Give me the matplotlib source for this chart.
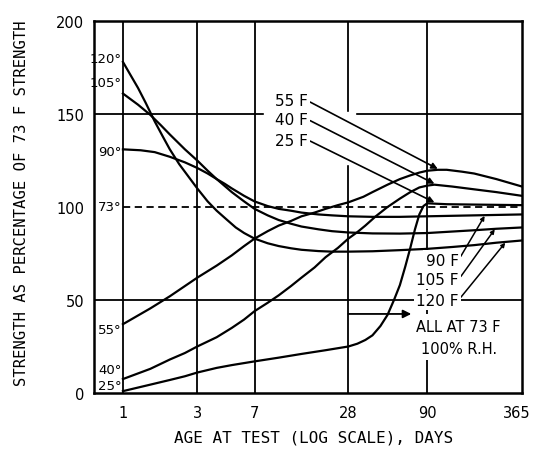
import matplotlib.pyplot as plt
from matplotlib.ticker import NullLocator
from matplotlib.patches import Rectangle
from matplotlib.transforms import ScaledTranslation

# strength as percentage of 73 F strength
days_120 = [1, 1.1, 1.25, 1.4, 1.6, 1.8, 2, 2.3, 2.6, 3, 3.5, 4, 4.6, 5.3, 6, 7,
            8.5, 10, 12, 14, 18, 22, 28, 40, 60, 90, 130, 180, 250, 365]
str_120 = [178, 172, 164, 156, 146, 138, 131, 123, 117, 110, 103, 98, 93.5, 89, 86, 83,
           80.5, 79, 77.8, 77, 76.3, 76, 76, 76.2, 76.8, 77.5, 78.5, 79.5, 80.8, 82]

days_105 = [1, 1.25, 1.5, 1.75, 2, 2.5, 3, 3.5, 4, 5, 6, 7, 8.5, 10, 12, 14, 18, 22,
            28, 40, 60, 90, 130, 180, 250, 365]
str_105 = [161, 155, 149.5, 144, 139, 131, 125, 119.5, 115, 108, 103, 99, 95.5, 93, 91,
           89.5, 88, 87, 86.3, 85.8, 85.7, 86, 86.8, 87.5, 88.3, 89]

days_90 = [1, 1.3, 1.6, 2, 2.5, 3, 3.5, 4, 4.5, 5, 6, 7, 8.5, 10, 12, 14, 18, 22, 28,
           40, 60, 90, 180, 365]
str_90 = [131, 130.5, 129.5, 127, 124, 121, 118, 115, 112.5, 110, 106, 103, 100.5, 99,
          98, 97, 96, 95.5, 95, 94.7, 94.7, 95, 95.5, 96]

days_73 = [1, 365]
str_73 = [100, 100]

days_55 = [1, 1.5, 2, 2.5, 3, 4, 5, 6, 7, 8.5, 10, 12, 14, 17, 20, 24, 28, 35, 40, 50,
           60, 70, 80, 90, 105, 120, 150, 180, 250, 365]
str_55 = [37, 45.5, 52, 57.5, 62, 68.5, 74, 79, 83, 87, 90, 92.5, 95, 97, 99, 101, 102.5,
          105.5, 108, 112, 115, 117, 118.5, 119.5, 120, 120, 119, 118, 115, 111]

days_40 = [1, 1.5, 2, 2.5, 3, 4, 5, 6, 7, 8.5, 10, 12, 14, 17, 20, 24, 28, 32, 36, 42,
           50, 60, 70, 80, 90, 100, 130, 180, 250, 365]
str_40 = [7.5, 13, 18, 21.5, 25, 30, 35, 39.5, 44, 48.5, 52.5, 57.5, 62, 67.5, 73, 78, 83,
          86.5, 90, 95, 100, 104.5, 108, 110.5, 111.5, 112, 111, 109.5, 108, 106]

days_25 = [1, 1.5, 2, 2.5, 3, 4, 5, 7, 10, 14, 20, 28, 32, 36, 40, 45, 50, 55, 60, 65,
           70, 75, 80, 85, 90, 100, 120, 180, 365]
str_25 = [1, 4.5, 7, 9, 11, 13.5, 15, 17, 19, 21, 23, 25, 26.5, 28.5, 31, 36, 42, 50,
          58, 68, 78, 88, 96, 100.5, 102, 101.8, 101.5, 101.3, 101]

x_ticks = [1, 3, 7, 28, 90, 365]
y_ticks = [0, 50, 100, 150, 200]
start_labels = ['120°', '105°', '90°', '73°', '55°', '40°', '25°']


def main():
    plt.rcParams['font.family'] = 'DejaVu Sans'
    fig = plt.figure(figsize=(5.33, 4.52), dpi=100)
    ax = fig.add_axes([94 / 533, 1 - 394 / 452, (522 - 94) / 533, (394 - 22) / 452])

    ax.set_xscale('log')
    ax.set_xlim(0.652, 365)
    ax.set_ylim(0, 200)
    ax.set_xticks(x_ticks)
    ax.set_xticklabels([str(t) for t in x_ticks], fontsize=10.5)
    ax.xaxis.set_minor_locator(NullLocator())
    ax.set_yticks(y_ticks)
    ax.set_yticklabels([str(t) for t in y_ticks], fontsize=10.5)
    ax.tick_params(axis='x', length=0, pad=9)
    ax.tick_params(axis='y', length=0, pad=7)
    # last tick label sits against the figure edge
    last = ax.get_xticklabels()[-1]
    last.set_horizontalalignment('right')
    last.set_transform(last.get_transform() + ScaledTranslation(6 / 72, 0, fig.dpi_scale_trans))
    for s in ax.spines.values():
        s.set_linewidth(1.8)

    # grid
    for d in x_ticks[:-1]:
        ax.axvline(d, color='k', lw=1.3, zorder=1)
    for v in [50, 150]:
        ax.axhline(v, color='k', lw=1.3, zorder=1)
    # cleared area behind the upper labels
    ax.add_patch(Rectangle((8.1, 123), 31 - 8.1, 28, color='white', zorder=1.5))

    kw = dict(color='k', lw=1.6, zorder=3)
    ax.plot(days_120, str_120, **kw)
    ax.plot(days_105, str_105, **kw)
    ax.plot(days_90, str_90, **kw)
    ax.plot(days_73, str_73, color='k', lw=1.3, ls=(0, (4, 2.5)), zorder=3)
    ax.plot(days_55, str_55, **kw)
    ax.plot(days_40, str_40, **kw)
    ax.plot(days_25, str_25, **kw)

    # start temperature labels
    label_y = [180, 167, 130, 100.5, 34, 12.4, 4.3]
    for txt, y in zip(start_labels, label_y):
        ax.text(0.98, y, txt, ha='right', va='center', fontsize=9.5, zorder=4)

    box = dict(facecolor='white', edgecolor='none', pad=1.5)
    arrow = dict(arrowstyle='-|>', color='k', lw=1.2, mutation_scale=9,
                 shrinkA=0, shrinkB=0)

    # upper leader labels
    for txt, y, tx, ty in [('55 F', 157, 105, 120.5),
                           ('40 F', 147, 100, 112.5),
                           ('25 F', 136, 100, 102.5)]:
        ax.annotate(txt, xy=(tx, ty), xytext=(9.5, y), ha='left', va='center',
                    fontsize=11, bbox=box, zorder=5,
                    arrowprops=dict(arrow, relpos=(1, 0.5)))

    # lower leader labels
    for txt, y, tx, ty in [('90 F', 71.5, 210, 95.2),
                           ('105 F', 61, 244, 88),
                           ('120 F', 50, 285, 80.8)]:
        ax.annotate(txt, xy=(tx, ty), xytext=(143, y), ha='right', va='center',
                    fontsize=11, bbox=box, zorder=5,
                    arrowprops=dict(arrowstyle='-|>', color='k', lw=1.1,
                                    mutation_scale=6, shrinkA=0, shrinkB=0,
                                    relpos=(1, 0.5)))

    ax.annotate('', xy=(71, 42.5), xytext=(28, 42.5), zorder=5,
                arrowprops=dict(arrowstyle='-|>', color='k', lw=1.3,
                                mutation_scale=12, shrinkA=0, shrinkB=0))
    ax.text(143, 36, 'ALL AT 73 F', ha='center', va='center', fontsize=10.5,
            bbox=dict(facecolor='white', edgecolor='none', pad=3), zorder=5)
    ax.text(143, 24, '100% R.H.', ha='center', va='center', fontsize=10.5,
            bbox=dict(facecolor='white', edgecolor='none', pad=3), zorder=5)

    fig.text(314 / 533, 1 - 438 / 452, 'AGE AT TEST (LOG SCALE), DAYS',
             ha='center', va='center', fontsize=11.5, family='DejaVu Sans Mono')
    fig.text(22 / 533, 1 - 203 / 452, 'STRENGTH AS PERCENTAGE OF 73 F STRENGTH',
             ha='center', va='center', rotation=90, fontsize=11.2,
             family='DejaVu Sans Mono')

    fig.savefig('out.png', dpi=100, facecolor='white')


if __name__ == '__main__':
    main()
